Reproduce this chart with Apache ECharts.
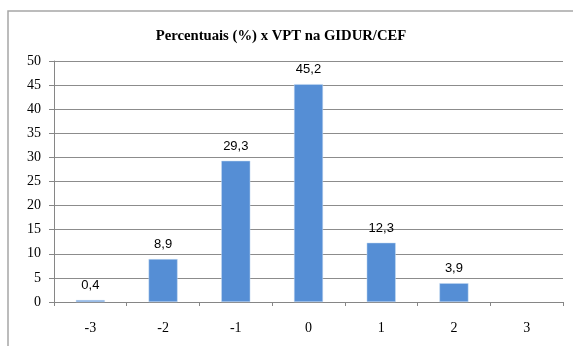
<!DOCTYPE html>
<html>
<head>
<meta charset="utf-8">
<script src="https://cdn.jsdelivr.net/npm/echarts@6/dist/echarts.min.js"></script>
<style>
  html, body { margin: 0; padding: 0; background: #fff; }
  #chart { width: 573px; height: 346px; }
</style>
</head>
<body>
<div id="chart"></div>
<script>
// VPT score categories and their share (%)
const categories = ['-3', '-2', '-1', '0', '1', '2', '3'];
const percentuais = [0.4, 8.9, 29.3, 45.2, 12.3, 3.9, null];
const yTicks = { min: 0, max: 50, interval: 5 };

const chart = echarts.init(document.getElementById('chart'), null, { renderer: 'canvas' });

chart.setOption({
  animation: false,
  backgroundColor: '#ffffff',
  title: {
    text: 'Percentuais (%) x VPT na GIDUR/CEF',
    left: 276,
    textAlign: 'center',
    top: 24,
    textStyle: {
      fontFamily: 'Liberation Serif',
      fontWeight: 'bold',
      fontSize: 14.7,
      color: '#000'
    }
  },
  graphic: [{
    type: 'rect',
    shape: { x: 8, y: 11, width: 600, height: 400 },
    style: { fill: 'none', stroke: '#a6a6a6', lineWidth: 1.5 },
    silent: true,
    z: -1
  }],
  grid: { left: 54, right: 10, top: 61, bottom: 44 },
  xAxis: {
    type: 'category',
    data: categories,
    boundaryGap: true,
    axisLine: { lineStyle: { color: '#868686', width: 1 } },
    axisTick: { show: true, alignWithLabel: false, length: 4, lineStyle: { color: '#868686' } },
    axisLabel: {
      margin: 19,
      fontFamily: 'Liberation Serif',
      fontSize: 14,
      color: '#000'
    }
  },
  yAxis: {
    type: 'value',
    min: yTicks.min,
    max: yTicks.max,
    interval: yTicks.interval,
    axisLine: { show: true, lineStyle: { color: '#868686', width: 1 } },
    axisTick: { show: true, length: 5, lineStyle: { color: '#868686' } },
    splitLine: { lineStyle: { color: '#8c8c8c', width: 1 } },
    axisLabel: {
      margin: 13,
      fontFamily: 'Liberation Serif',
      fontSize: 14,
      color: '#000'
    }
  },
  series: [{
    type: 'bar',
    data: percentuais,
    barWidth: 29,
    itemStyle: { color: '#558ed5', borderColor: '#c9dcf3', borderWidth: 0.5 },
    label: {
      show: true,
      position: 'top',
      distance: 8,
      fontFamily: 'Liberation Sans',
      fontSize: 13,
      color: '#000',
      formatter: p => p.value == null ? '' : String(p.value).replace('.', ',')
    }
  }]
});
</script>
</body>
</html>
